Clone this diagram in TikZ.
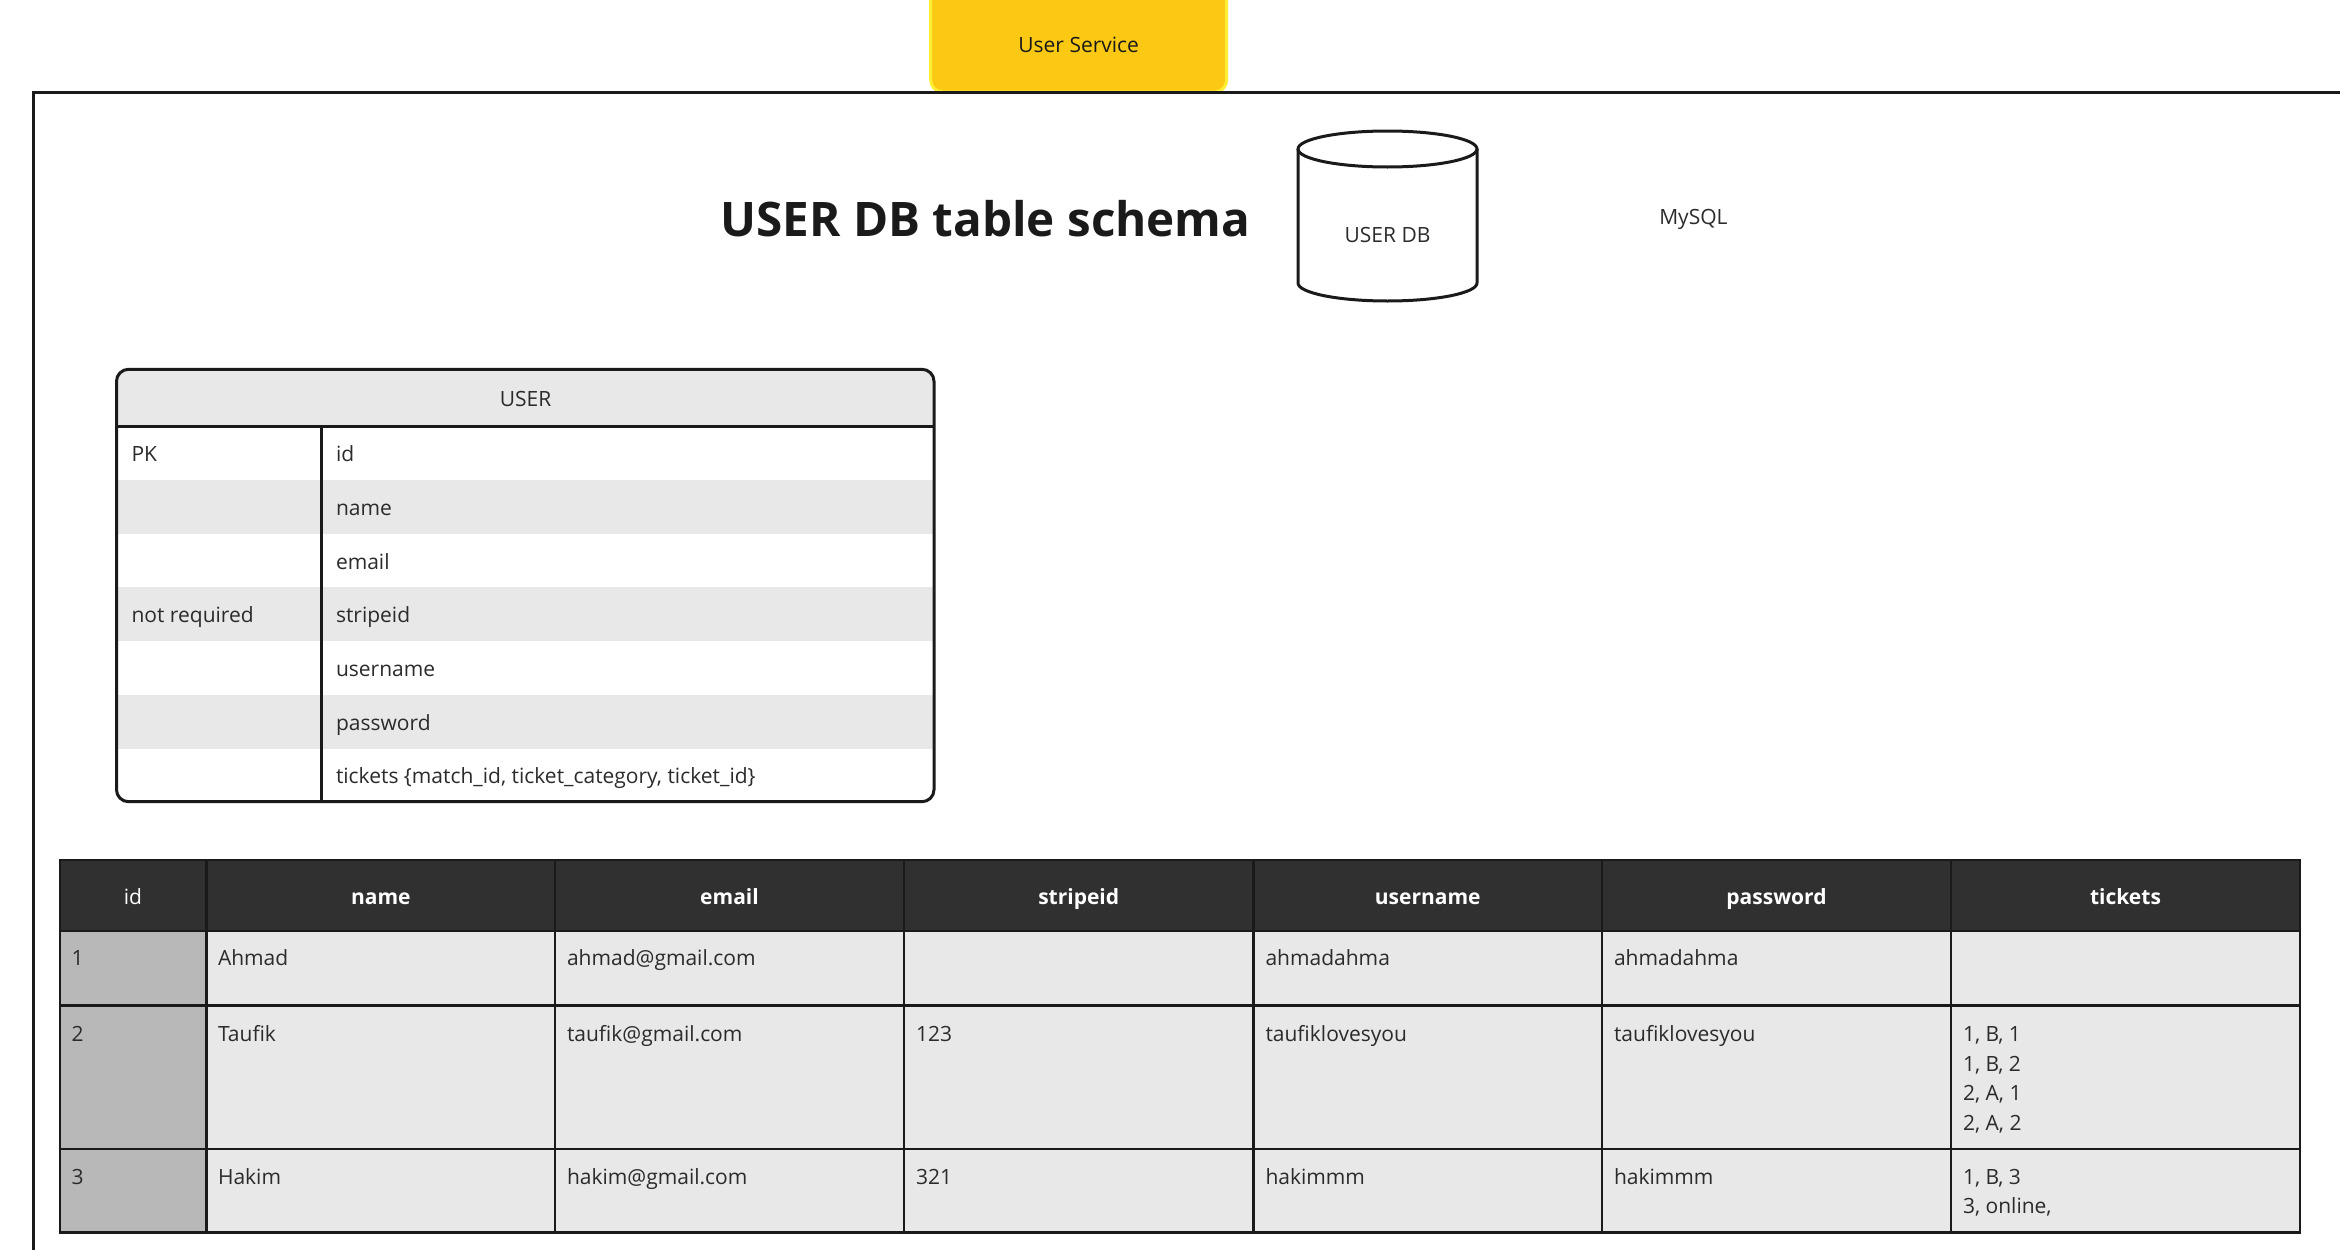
\documentclass[tikz,border=0pt]{standalone}
\usepackage{fontspec}
\setmainfont{Open Sans}
\definecolor{ink}{HTML}{1A1A1A}
\definecolor{txt}{HTML}{2B2B2B}
\definecolor{band}{HTML}{E8E8E8}
\definecolor{idcol}{HTML}{B8B8B8}
\definecolor{head}{HTML}{303030}
\definecolor{svc}{HTML}{FBC913}
\definecolor{svcedge}{HTML}{FFEE33}
\tikzset{
  lbl/.style={inner sep=0pt,outer sep=0pt,anchor=base,text=txt,font=\fontsize{21}{24}\selectfont},
  lblw/.style={lbl,anchor=base west},
  hdr/.style={lbl,text=white,font=\fontsize{21}{24}\selectfont\bfseries},
  rule/.style={draw=ink,line width=3pt},
  thin rule/.style={draw=ink,line width=2.4pt}
}
\begin{document}
\begin{tikzpicture}[x=1pt,y=-1pt]
\useasboundingbox (0,0) rectangle (2340,1250);
\clip (0,0) rectangle (2340,1250);
% service tab
\node[draw=svcedge,fill=svc,line width=3pt,rounded corners=12pt,minimum width=296pt,minimum height=130pt,inner sep=0pt] (svcbox) at (1078.7,27) {};
\node[lbl,text=ink] (svctext) at (1078.7,52.2) {User Service};
% frame
\draw[rule] (2350,92) -- (33.5,92) -- (33.5,1260);
% title
\node[lbl,text=ink,font=\fontsize{47.6}{52}\selectfont\bfseries] (title) at (985.5,236.2) {USER DB table schema};
% cylinder
\draw[draw=ink,line width=3pt,fill=white,line join=round] (1298,149) -- (1298,283) arc[start angle=180,end angle=360,x radius=89.5pt,y radius=18pt] -- (1477,149);
\draw[draw=ink,line width=3pt] (1387.5,149) ellipse[x radius=89.5pt,y radius=18pt];
\node[lbl] (dbtext) at (1387.5,242.5) {USER DB};
\node[lbl] (mysql) at (1693.4,224) {MySQL};
% USER schema table
\begin{scope}
\clip[rounded corners=12pt] (116.5,369.3) rectangle (934,801.7);
\fill[band] (116.5,369.3) rectangle (934,426.3);
\fill[band] (116.5,480) rectangle (934,533.7);
\fill[band] (116.5,587.4) rectangle (934,641.1);
\fill[band] (116.5,694.8) rectangle (934,748.5);
\end{scope}
\draw[rule] (116.5,426.3) -- (934,426.3);
\draw[rule] (321,426.3) -- (321,801.7);
\draw[rule,rounded corners=12pt] (116.5,369.3) rectangle (934,801.7);
\node[lbl] (schemahead) at (525.5,406) {USER};
\node[lblw] (pk) at (131.5,461) {PK};
\node[lblw] (notreq) at (131.5,622) {not required};
\node[lblw] (fid) at (336,461) {id};
\node[lblw] (fname) at (336,515) {name};
\node[lblw] (femail) at (336,569) {email};
\node[lblw] (fstripe) at (336,622) {stripeid};
\node[lblw] (fuser) at (336,676) {username};
\node[lblw] (fpass) at (336,730) {password};
\node[lblw] (ftick) at (336,783.5) {tickets \{match\_id, ticket\_category, ticket\_id\}};
% data table
\fill[head] (59.7,860) rectangle (2300,930.7);
\fill[band] (59.7,930.7) rectangle (2300,1232.3);
\fill[idcol] (59.7,930.7) rectangle (206.6,1232.3);
\draw[thin rule] (59.7,860) rectangle (2300,1232.3);
\foreach \yy in {930.7,1005.3,1148.7} \draw[thin rule] (59.7,\yy) -- (2300,\yy);
\foreach \xx in {206.6,555,904,1253.5,1602,1951} \draw[thin rule] (\xx,860) -- (\xx,1232.3);
\node[lbl,text=white] (hid) at (133,904) {id};
\node[hdr] (hname) at (380.8,904) {name};
\node[hdr] (hemail) at (729.5,904) {email};
\node[hdr] (hstripe) at (1078.7,904) {stripeid};
\node[hdr] (huser) at (1427.7,904) {username};
\node[hdr] (hpass) at (1776.5,904) {password};
\node[hdr] (htick) at (2125.5,904) {tickets};
% row 1
\node[lblw] (a1) at (71.5,965) {1};
\node[lblw] (a2) at (218,965) {Ahmad};
\node[lblw] (a3) at (567,965) {ahmad@gmail.com};
\node[lblw] (a5) at (1265.5,965) {ahmadahma};
\node[lblw] (a6) at (1614,965) {ahmadahma};
% row 2
\node[lblw] (b1) at (71.5,1041) {2};
\node[lblw] (b2) at (218,1041) {Taufik};
\node[lblw] (b3) at (567,1041) {taufik@gmail.com};
\node[lblw] (b4) at (916,1041) {123};
\node[lblw] (b5) at (1265.5,1041) {taufiklovesyou};
\node[lblw] (b6) at (1614,1041) {taufiklovesyou};
\node[lblw] (b7a) at (1963,1041) {1, B, 1};
\node[lblw] (b7b) at (1963,1071) {1, B, 2};
\node[lblw] (b7c) at (1963,1100.5) {2, A, 1};
\node[lblw] (b7d) at (1963,1130) {2, A, 2};
% row 3
\node[lblw] (c1) at (71.5,1184) {3};
\node[lblw] (c2) at (218,1184) {Hakim};
\node[lblw] (c3) at (567,1184) {hakim@gmail.com};
\node[lblw] (c4) at (916,1184) {321};
\node[lblw] (c5) at (1265.5,1184) {hakimmm};
\node[lblw] (c6) at (1614,1184) {hakimmm};
\node[lblw] (c7a) at (1963,1184) {1, B, 3};
\node[lblw] (c7b) at (1963,1213.7) {3, online,};
\end{tikzpicture}
\end{document}
